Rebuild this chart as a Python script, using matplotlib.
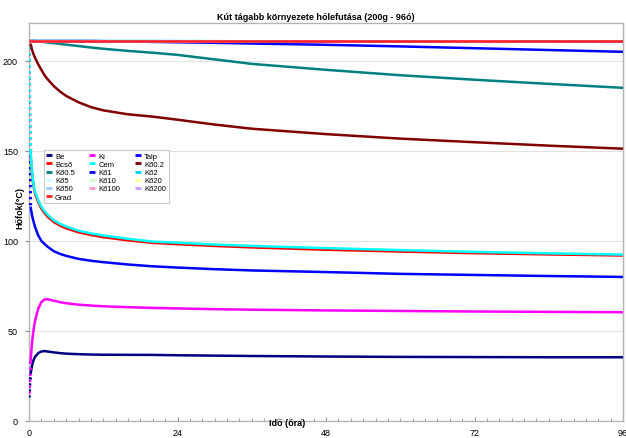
import matplotlib
matplotlib.use('Agg')
import matplotlib.pyplot as plt
from matplotlib.lines import Line2D
from matplotlib.ticker import MultipleLocator

plt.rcParams['font.family'] = ['Liberation Sans', 'DejaVu Sans']

# time (hours) and temperatures (°C)
hours = [0, 0.1, 0.25, 0.5, 0.75, 1, 1.5, 2, 2.5, 3, 4, 5, 6, 8, 10, 12, 16, 20,
         24, 30, 36, 48, 60, 72, 84, 96]

be = [13, 20, 26, 31, 34, 35.8, 37.7, 38.6, 38.8, 38.6, 38.1, 37.7, 37.4, 37.1, 36.9,
      36.8, 36.75, 36.7, 36.5, 36.3, 36.1, 35.8, 35.6, 35.5, 35.4, 35.4]
ki = [15, 22, 33, 44, 51, 56, 62.5, 66, 67.5, 67.6, 66.8, 66, 65.4, 64.6, 64.1, 63.7,
      63.2, 62.8, 62.5, 62.1, 61.8, 61.4, 61.1, 60.8, 60.6, 60.4]
talp = [211, 150, 119, 114, 110.5, 107.5, 103, 100, 98.3, 96.8, 94.3, 92.8, 91.7, 90,
        89, 88.2, 86.9, 85.9, 85.2, 84.3, 83.6, 82.7, 81.7, 81.1, 80.5, 80]
bcso = [211, 168, 148, 137, 130, 126, 121.5, 118, 115.5, 113.5, 110.5, 108.5, 107,
        104.8, 103.3, 102.1, 100.3, 98.9, 98.2, 97.2, 96.4, 95.1, 94.1, 93.2, 92.5, 91.9]
cem = [211, 170, 150, 138, 131, 127, 122.5, 119, 116.5, 114.5, 111.5, 109.5, 108,
       105.7, 104.2, 103, 101.2, 99.6, 99, 98, 97.2, 96, 94.9, 93.9, 93.1, 92.4]
ko02 = [211, 210.5, 209.5, 206, 203.5, 201.5, 198, 195, 192, 189.8, 186, 183, 180.5,
        177, 174.3, 172.5, 170.3, 169, 167.3, 164.6, 162.3, 159.3, 156.8, 154.8, 152.9, 151.2]
ko05 = [211, 211, 211, 211, 211, 210.9, 210.8, 210.6, 210.4, 210.2, 209.8, 209.4, 209,
        208.2, 207.4, 206.7, 205.5, 204.5, 203.3, 200.8, 198.3, 195, 192, 189.5, 187.2, 185]
ko1 = [211, 211, 211, 211, 211, 211, 211, 211, 211, 211, 211, 211, 211, 211, 211,
       210.9, 210.7, 210.5, 210.3, 210, 209.6, 208.9, 208, 207, 206, 205]
ko2 = [211, 211, 211, 211, 211, 211, 211, 211, 211, 211, 211, 211, 211, 211, 211,
       211, 211, 211, 210.95, 210.9, 210.85, 210.8, 210.7, 210.65, 210.6, 210.5]
# outer rock layers and the geothermal gradient stay at the initial value
ko5 = [211] * len(hours)
ko10 = [211] * len(hours)
ko20 = [211] * len(hours)
ko50 = [211] * len(hours)
ko100 = [211] * len(hours)
ko200 = [211] * len(hours)
grad = [211] * len(hours)

names = ['Be', 'Ki', 'Talp', 'Bcső', 'Cem', 'Kő0.2', 'Kő0.5', 'Kő1', 'Kő2',
         'Kő5', 'Kő10', 'Kő20', 'Kő50', 'Kő100', 'Kő200', 'Grad']
series = [be, ki, talp, bcso, cem, ko02, ko05, ko1, ko2,
          ko5, ko10, ko20, ko50, ko100, ko200, grad]
colors = ['#000080', '#ff00ff', '#0000ff', '#ff0000', '#00ffff', '#800000',
          '#008080', '#0000ff', '#00ccff', '#ccffff', '#ccffcc', '#ffff99',
          '#99ccff', '#ff99cc', '#cc99ff', '#ff2020']

fig = plt.figure(figsize=(6.26, 4.39), dpi=100)
ax = fig.add_axes([29 / 626, 17 / 439, 594 / 626, 398 / 439])

n0 = 2  # first points are sparse markers in the original
for ys, c in zip(series, colors):
    ax.plot(hours[:n0 + 1], ys[:n0 + 1], color=c, lw=2.4,
            linestyle=(0, (0.7, 1.1)), zorder=3)
    ax.plot(hours[n0:], ys[n0:], color=c, lw=1.8, solid_capstyle='butt', zorder=3)

ax.set_xlim(0, 96)
ax.set_ylim(0, 221)
ax.set_xticks([0, 24, 48, 72, 96])
ax.xaxis.set_minor_locator(MultipleLocator(2))
ax.set_yticks([0, 50, 100, 150, 200])
ax.tick_params(axis='x', which='both', direction='in', colors='#909090',
               labelcolor='black', labelsize=6.5, pad=5)
ax.tick_params(axis='x', which='major', length=3)
ax.tick_params(axis='x', which='minor', length=2)
ax.tick_params(axis='y', direction='out', length=3, colors='#909090',
               labelcolor='black', labelsize=6.5, pad=5)
ax.grid(axis='y', color='#e2e2e2', lw=0.8)
ax.set_axisbelow(True)
for s in ax.spines.values():
    s.set_color('#b4b4b4')
    s.set_linewidth(1.0)

fig.text(316 / 626, 1 - 17 / 439, 'Kút tágabb környezete hőlefutása (200g - 96ó)',
         ha='center', va='center', fontsize=6.5, fontweight='bold')
fig.text(287 / 626, 1 - 424 / 439, 'Idő (óra)', ha='center', va='center',
         fontsize=6.5, fontweight='bold')
fig.text(20 / 626, 1 - 208 / 439, 'Hőfok(°C)', ha='center', va='center',
         rotation=90, fontsize=6.5, fontweight='bold')

# legend laid out row by row like the original (3 columns)
handles = [Line2D([], [], color=c, marker='_', linestyle='None', markersize=4,
                  markeredgewidth=2) for c in colors]
order = [0, 3, 6, 9, 12, 15, 1, 4, 7, 10, 13, 2, 5, 8, 11, 14]
leg = ax.legend([handles[i] for i in order], [names[i] for i in order], ncol=3,
                loc='upper left', bbox_to_anchor=(0.025, 0.681), borderaxespad=0,
                fontsize=5.5, handlelength=0.6, handletextpad=0.5,
                columnspacing=2.0, labelspacing=0.1, borderpad=0.35,
                fancybox=False, framealpha=1, edgecolor='#c8c8c8')
leg.get_frame().set_linewidth(0.8)
leg.set_zorder(5)

fig.savefig('out.png', dpi=100)
